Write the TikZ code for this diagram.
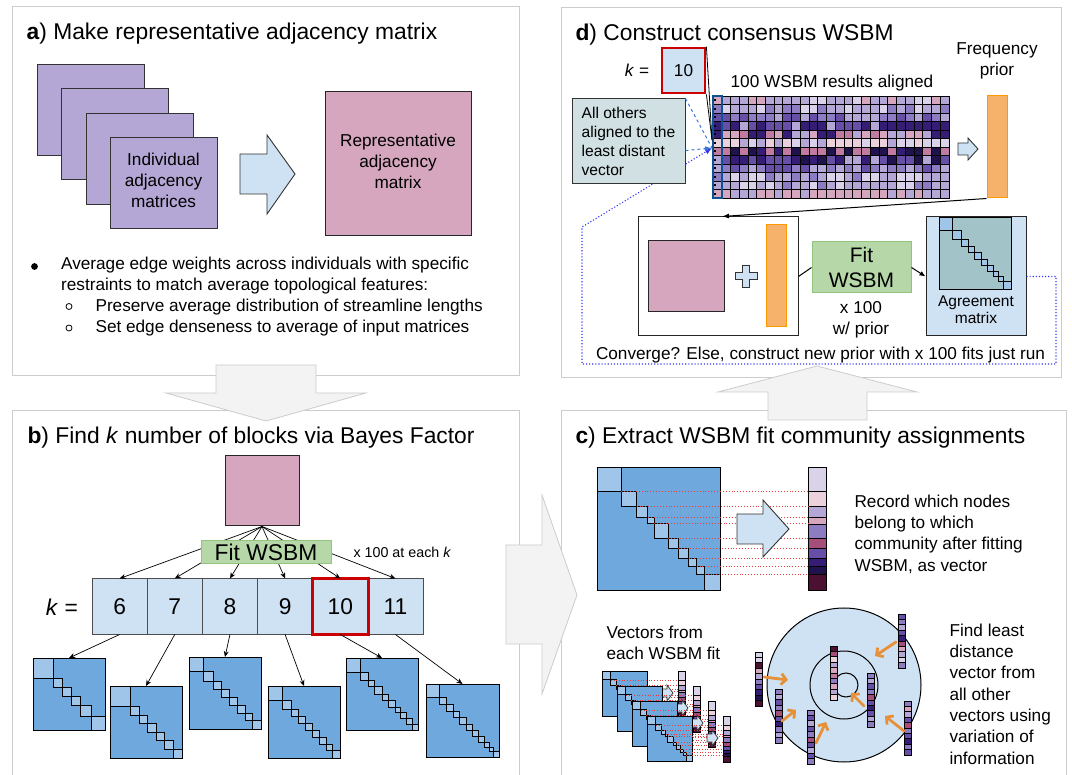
\documentclass[tikz,border=0pt]{standalone}
\usepackage{fontspec}
\setmainfont{Liberation Sans}
\usetikzlibrary{calc,arrows.meta}
\definecolor{pan_gray}{RGB}{204,204,204}
\definecolor{arr_gray}{RGB}{243,243,243}
\definecolor{lt_blue}{RGB}{207,226,243}
\definecolor{mat_blue}{RGB}{111,168,220}
\definecolor{blk_blue}{RGB}{159,197,232}
\definecolor{fit_green}{RGB}{182,215,168}
\definecolor{fit_edge}{RGB}{147,196,125}
\definecolor{sel_red}{RGB}{204,0,0}
\definecolor{prior_orange}{RGB}{246,178,107}
\definecolor{prior_edge}{RGB}{255,153,0}
\definecolor{note_gray}{RGB}{208,224,227}
\definecolor{agr_teal}{RGB}{162,196,201}
\definecolor{arr_orange}{RGB}{230,145,56}
\definecolor{lead_blue}{RGB}{11,83,148}
\definecolor{dash_blue}{RGB}{60,120,216}
\definecolor{dot_blue}{RGB}{51,51,255}
\definecolor{guide_red}{RGB}{230,60,60}
\definecolor{pp_lav}{RGB}{217,210,233}
\definecolor{pp_light}{RGB}{180,167,214}
\definecolor{pp_med}{RGB}{142,124,195}
\definecolor{pp_mid}{RGB}{103,78,167}
\definecolor{pp_dark}{RGB}{53,28,117}
\definecolor{pp_deep}{RGB}{32,18,77}
\definecolor{pk_pale}{RGB}{234,209,220}
\definecolor{pk_light}{RGB}{213,166,189}
\definecolor{pk_med}{RGB}{194,123,160}
\definecolor{pk_mag}{RGB}{166,77,121}
\definecolor{pk_deep}{RGB}{76,17,48}
\newcommand{\ttlsize}{\fontsize{22.8pt}{27pt}\selectfont}
\newcommand{\txtsize}{\fontsize{17.2pt}{21.3pt}\selectfont}
\newcommand{\calsize}{\fontsize{15.6pt}{19pt}\selectfont}
\newcommand{\agrsize}{\fontsize{15.5pt}{17pt}\selectfont}
\newcommand{\xsize}{\fontsize{14.3pt}{17pt}\selectfont}
\newcommand{\fitsize}{\fontsize{21pt}{25.5pt}\selectfont}
\tikzstyle{panel}=[draw=pan_gray,line width=1pt]
\tikzstyle{grayarrow}=[draw=pan_gray,fill=arr_gray,line width=0.8pt]
\tikzstyle{bluearrow}=[draw=black!80,fill=lt_blue,line width=0.9pt]
\tikzstyle{mat}=[draw=black,line width=0.9pt,inner sep=0pt,outer sep=0pt]
\tikzstyle{blk}=[draw=black,fill=blk_blue,line width=0.9pt]
\tikzstyle{indmat}=[draw=black!80,fill=pp_light,line width=1pt,minimum width=107pt,
  minimum height=91pt,anchor=north west]
\tikzstyle{repmat}=[draw=black!85,fill=pk_light,line width=1pt]
\tikzstyle{kbox}=[draw=black!70,fill=lt_blue,line width=1pt,minimum width=55.2pt,
  minimum height=55pt,inner sep=0pt,font=\ttlsize]
\tikzstyle{selbox}=[draw=sel_red,line width=2.8pt]
\tikzstyle{fitbox}=[draw=fit_edge,fill=fit_green,line width=1pt,inner sep=0pt]
\tikzstyle{prior}=[draw=prior_edge,fill=prior_orange,line width=1pt,minimum width=20pt,
  minimum height=102pt,inner sep=0pt]
\tikzstyle{cell}=[draw=black,line width=0.9pt]
\tikzstyle{vecnode}=[inner sep=0pt,outer sep=0pt]
\tikzstyle{vecline}=[draw=black,line width=0.7pt]
\tikzstyle{guide}=[guide_red,dotted,line width=0.9pt]
\tikzstyle{fan}=[-{Stealth[length=6pt,width=5pt]},line width=0.7pt]
\tikzstyle{orangearrow}=[arr_orange,line width=2.8pt,line cap=round,
  -{Straight Barb[length=5pt,width=11pt]}]
\tikzstyle{loopline}=[dot_blue,dotted,line width=1.1pt]
\tikzstyle{callout}=[draw=black!80,fill=note_gray,line width=1pt,minimum width=113pt,
  minimum height=85pt,align=left,font=\calsize]
% matrix with diagonal blocks: name, x, y, size, fill, block pairs
\newcommand{\diagmat}[6]{%
  \node[style=mat,fill=#5,minimum width=#4pt,minimum height=#4pt,anchor=north west] (#1) at (#2,#3) {};
  \foreach \p/\q in {#6}
    \draw[style=blk] ($(#1.north west)+(\p*#4,\p*#4)$) rectangle ($(#1.north west)+(\q*#4,\q*#4)$);
}
% community vector: name, x, y, width, height, from/to/colour
\newcommand{\colvec}[6]{%
  \node[style=vecnode,minimum width=#4pt,minimum height=#5pt,anchor=north west] (#1) at (#2,#3) {};
  \foreach \p/\q/\cl in {#6}
    \draw[style=vecline,fill=\cl] ($(#1.north west)+(0,\p*#5)$) rectangle ($(#1.north east)+(0,\q*#5)$);
}
% ten equal cells
\newcommand{\eqvec}[4]{%
  \node[style=vecnode,minimum width=7pt,minimum height=54pt,anchor=north west] (#1) at (#2,#3) {};
  \foreach \cl [count=\nn from 0] in {#4}
    \draw[style=vecline,fill=\cl] ($(#1.north west)+(0,\nn*5.4)$) rectangle ++(7,5.4);
}
\pgfmathdeclarerandomlist{row1}{{pp_light}{pk_light}{pp_light}{pp_lav}{pp_light}}
\pgfmathdeclarerandomlist{row2}{{pp_lav}{pp_light}{pp_med}{pp_light}}
\pgfmathdeclarerandomlist{row3}{{pp_med}{pp_mid}{pp_light}{pp_med}}
\pgfmathdeclarerandomlist{row4}{{pp_dark}{pp_mid}{pp_dark}{pp_light}}
\pgfmathdeclarerandomlist{row5}{{pk_med}{pp_dark}{pk_light}{pp_light}}
\pgfmathdeclarerandomlist{row6}{{pk_pale}{pp_lav}{pk_pale}{pp_light}}
\pgfmathdeclarerandomlist{row7}{{pp_deep}{pk_med}{pp_dark}{pk_med}}
\pgfmathdeclarerandomlist{row8}{{pp_dark}{pp_mid}{pp_deep}{pp_light}}
\pgfmathdeclarerandomlist{row9}{{pp_med}{pp_mid}{pp_light}{pp_med}}
\pgfmathdeclarerandomlist{row10}{{pp_lav}{pp_light}{pp_med}{pp_light}}
\pgfmathdeclarerandomlist{row11}{{pp_light}{pp_lav}{pp_med}{pp_light}}
\pgfmathdeclarerandomlist{row12}{{pk_light}{pp_light}{pp_light}{pk_light}}

\begin{document}
\begin{tikzpicture}[x=1pt,y=-1pt]
  \useasboundingbox (0,0) rectangle (1072,775);
  \fill[white] (0,0) rectangle (1072,775);

  % panels and the arrows between them
  \draw[style=panel] (12,7) rectangle (519,376);
  \draw[style=panel] (12,780) |- (519,411) -- (519,780);
  \draw[style=panel] (561,780) |- (1066,411) -- (1066,780);
  \draw[style=panel] (561,8) rectangle (1061,378);
  \draw[style=grayarrow] (216,365) -- (316,365) -- (316,393) -- (366,393) -- (266,421) -- (166,393) -- (216,393) -- cycle;
  \draw[style=grayarrow] (506,545) -- (542,545) -- (542,495) -- (577,595) -- (542,694) -- (542,644) -- (506,644) -- cycle;
  \draw[style=grayarrow] (768,420) -- (867,420) -- (867,392) -- (917,392) -- (817,366) -- (718,392) -- (768,392) -- cycle;

  % a)
  \node[anchor=base west,font=\ttlsize] (ta) at (23,39.5) {\textbf{a}) Make representative adjacency matrix};
  \foreach \i in {0,...,3}
    \node [style=indmat] (ind\i) at (37+24.3*\i,64+24.3*\i) {};
  \node[font=\txtsize,align=center,anchor=north] (indtxt) at (163.5,149.4) {Individual\\adjacency\\matrices};
  \draw[style=bluearrow] (240,154) -- (267,154) -- (267,135) -- (295,174) -- (267,214) -- (267,194) -- (240,194) -- cycle;
  \node [style=repmat,minimum width=146pt,minimum height=144pt] (rep) at (398,164) {};
  \node[font=\txtsize,align=center,anchor=north] (reptxt) at (398,130.4) {Representative\\adjacency\\matrix};
  \fill (34.5,266.5) circle (3.4);
  \node[anchor=base west,font=\txtsize] (avg1) at (57.6,270) {Average edge weights across individuals with specific};
  \node[anchor=base west,font=\txtsize] (avg2) at (57.6,290.7) {restraints to match average topological features:};
  \draw[line width=0.8pt] (69,306.5) circle (3);
  \node[anchor=base west,font=\txtsize] (pres) at (92,311.7) {Preserve average distribution of streamline lengths};
  \draw[line width=0.8pt] (69,328) circle (3);
  \node[anchor=base west,font=\txtsize] (dens) at (92,333) {Set edge denseness to average of input matrices};

  % b)
  \node[anchor=base west,font=\ttlsize] (tb) at (24,444) {\textbf{b}) Find \textit{k} number of blocks via Bayes Factor};
  \node [style=repmat,minimum width=74pt,minimum height=70pt] (pinkb) at (262,491) {};
  \foreach \k [count=\i from 0] in {6,...,11}
    \node [style=kbox] (k\k) at (119.6+55.17*\i,606.5) {\k};
  \draw[style=selbox] (k10.north west) rectangle (k10.south east);
  \node[font=\ttlsize] (keq) at (62,607) {\textit{k} =};
  \foreach \k in {6,...,11}
    \draw[style=fan] (pinkb.south) to (k\k.north);
  \node [style=fitbox,minimum width=130pt,minimum height=23pt,font=\ttlsize] (fitb) at (266,552.5) {Fit WSBM};
  \node[anchor=base west,font=\xsize] (each) at (350,558) {x 100 at each \textit{k}};
  \diagmat{m6}{33}{658}{72}{mat_blue}{0/0.29,0.29/0.41,0.41/0.54,0.54/0.66,0.66/0.81,0.81/1}
  \diagmat{m7}{110}{686}{72}{mat_blue}{0/0.28,0.28/0.41,0.41/0.52,0.52/0.64,0.64/0.75,0.75/0.88,0.88/1}
  \diagmat{m8}{189}{657}{72}{mat_blue}{0/0.2,0.2/0.34,0.34/0.45,0.45/0.56,0.56/0.67,0.67/0.78,0.78/0.88,0.88/1}
  \diagmat{m9}{268}{686}{72}{mat_blue}{0/0.2,0.2/0.32,0.32/0.42,0.42/0.52,0.52/0.62,0.62/0.72,0.72/0.81,0.81/0.9,0.9/1}
  \diagmat{m10}{346}{658}{72}{mat_blue}{0/0.2,0.2/0.31,0.31/0.4,0.4/0.5,0.5/0.59,0.59/0.68,0.68/0.76,0.76/0.84,0.84/0.92,0.92/1}
  \diagmat{m11}{426}{684}{73}{mat_blue}{0/0.18,0.18/0.28,0.28/0.37,0.37/0.46,0.46/0.55,0.55/0.64,0.64/0.72,0.72/0.8,0.8/0.87,0.87/0.93,0.93/1}
  \foreach \k in {6,...,11}
    \draw[style=fan] (k\k.south) to (m\k.north);

  % c)
  \node[anchor=base west,font=\ttlsize] (tc) at (572,444) {\textbf{c}) Extract WSBM fit community assignments};
  \diagmat{cmat}{597}{467}{123}{mat_blue}{0/0.198,0.198/0.322,0.322/0.413,0.413/0.463,0.463/0.579,0.579/0.661,0.661/0.744,0.744/0.81,0.81/0.876,0.876/1}
  \colvec{cvec}{808}{467}{18}{123}{0/0.198/pp_lav,0.198/0.322/pk_pale,0.322/0.413/pp_light,0.413/0.463/pk_light,0.463/0.579/pp_med,0.579/0.661/pk_mag,0.661/0.744/pp_mid,0.744/0.81/pp_dark,0.81/0.876/pp_deep,0.876/1/pk_deep}
  \foreach \q in {0.198,0.322,0.413,0.463,0.579,0.661,0.744,0.81,0.876}
    \draw[style=guide] ($(cmat.north west)+(\q*123,\q*123)$) to ($(cvec.north west)+(0,\q*123)$);
  \draw[style=bluearrow] (737,514) -- (763,514) -- (763,500) -- (789,529) -- (763,557) -- (763,544) -- (737,544) -- cycle;
  \node[anchor=north west,font=\txtsize,align=left] (record) at (851,491.4) {Record which nodes\\belong to which\\community after fitting\\WSBM, as vector};
  \node[anchor=north west,font=\txtsize,align=left] (vfrom) at (603,622.4) {Vectors from\\each WSBM fit};
  \foreach \i in {0,...,3} {
    \diagmat{sm\i}{602+15*\i}{671+15*\i}{45}{mat_blue}{0/0.198,0.198/0.322,0.322/0.413,0.413/0.463,0.463/0.579,0.579/0.661,0.661/0.744,0.744/0.81,0.81/0.876,0.876/1}
    \foreach \q in {0.198,0.322,0.413,0.463,0.579,0.661,0.744,0.81,0.876}
      \draw[style=guide,line width=0.7pt] ($(sm\i.north west)+(\q*45,\q*45)$) to ($(sm\i.north west)+(76,\q*45)$);
    \begin{scope}[shift={(662+15*\i,693+15*\i)}]
      \draw[style=bluearrow,line width=0.7pt] (0,-4) -- (5,-4) -- (5,-8) -- (11,0) -- (5,8) -- (5,4) -- (0,4) -- cycle;
    \end{scope}
    \colvec{sv\i}{678+15*\i}{671+15*\i}{7}{46}{0/0.198/pp_lav,0.198/0.322/pk_pale,0.322/0.413/pp_light,0.413/0.463/pk_light,0.463/0.579/pp_med,0.579/0.661/pk_mag,0.661/0.744/pp_mid,0.744/0.81/pp_dark,0.81/0.876/pp_deep,0.876/1/pk_deep}
  }
  \node[circle,draw,fill=lt_blue,line width=1pt,minimum size=154pt,inner sep=0pt] (outer) at (844,685) {};
  \node[circle,draw,line width=1pt,minimum size=68pt,inner sep=0pt] (middle) at (844,685) {};
  \node[circle,draw,line width=1pt,minimum size=24pt,inner sep=0pt] (inner) at (846,685) {};
  \eqvec{cv1}{755}{652}{pp_lav,pp_lav,pk_deep,pk_light,pp_light,pp_med,pp_mid,pp_dark,pp_deep,pk_deep}
  \eqvec{cv2}{775}{689}{pp_med,pp_light,pp_mid,pp_med,pk_mag,pp_mid,pp_dark,pp_med,pp_light,pp_med}
  \eqvec{cv3}{807}{710}{pp_med,pp_mid,pp_light,pp_mid,pp_med,pk_mag,pp_mid,pp_light,pp_mid,pp_med}
  \eqvec{cv4}{830}{646}{pk_deep,pk_mag,pk_pale,pp_light,pk_light,pk_med,pp_med,pk_light,pp_light,pk_pale}
  \eqvec{cv5}{867}{673}{pp_med,pp_light,pp_mid,pp_med,pk_mag,pp_mid,pp_dark,pp_mid,pp_light,pp_med}
  \eqvec{cv6}{898}{614}{pp_mid,pp_med,pp_light,pp_mid,pp_dark,pk_mag,pk_light,pp_light,pp_lav,pp_med}
  \eqvec{cv7}{904}{701}{pp_med,pk_light,pp_light,pp_mid,pk_mag,pp_med,pp_mid,pp_dark,pp_med,pp_mid}
  \draw[style=orangearrow] (764,677) -- (788,680);
  \draw[style=orangearrow] (782,721) -- (796,710);
  \draw[style=orangearrow] (816,743) -- (826,722);
  \draw[style=orangearrow] (864,706) -- (851,693);
  \draw[style=orangearrow] (904,731) -- (885,716);
  \draw[style=orangearrow] (896,642) -- (875,656);
  \node[anchor=north west,font=\txtsize,align=left] (least) at (946,620.4) {Find least\\distance\\vector from\\all other\\vectors using\\variation of\\information};

  % d)
  \node[anchor=base west,font=\ttlsize] (td) at (572,40.5) {\textbf{d}) Construct consensus WSBM};
  \node[font=\txtsize] (keqd) at (637,70) {\textit{k} =};
  \node [style=kbox,minimum width=43pt,minimum height=45pt,font=\txtsize,draw=sel_red,line width=2.8pt] (k10d) at (683.5,70.5) {10};
  \node[anchor=base,font=\txtsize] (restxt) at (832,88) {100 WSBM results aligned};
  \node[inner sep=0pt,minimum width=236pt,minimum height=102pt,anchor=north west] (res) at (713,96) {};
  \pgfmathsetseed{21}
  \foreach \ro in {1,...,12}
    \foreach \co in {1,...,27} {
      \pgfmathrandomitem{\cc}{row\ro}
      \draw[style=cell,fill=\cc] ($(res.north west)+(8.74*\co-8.74,8.5*\ro-8.5)$) rectangle ++(8.74,8.5);
    }
  \foreach \ro in {1,...,12}
    \draw[line width=1.6pt] ($(res.north west)+(0.4,8.5*\ro-4.25)$) -- ++(3,0);
  \draw[lead_blue,line width=1.6pt] (res.north west) rectangle ($(res.north west)+(9,102)$);
  \coordinate (lead) at (712,148);
  \coordinate (lead2) at (712,140);
  \draw[line width=0.8pt] (k10d.north east) to (lead2);
  \draw[line width=0.8pt] (k10d.south east) to (lead2);
  \node[anchor=north,font=\txtsize,align=center] (freq) at (997,39.2) {Frequency\\prior};
  \draw[style=bluearrow] (958,143) -- (968,143) -- (968,138) -- (978,149) -- (968,160) -- (968,155) -- (958,155) -- cycle;
  \node [style=prior] (fprior) at (997,147) {};
  \node[draw=black!85,line width=1pt,minimum width=160pt,minimum height=119pt] (inbox) at (718,276.5) {};
  \draw[line width=1pt,-{Latex[length=7pt,width=5pt]}] (fprior.south west) to ($(inbox.north west)!0.525!(inbox.north east)$);
  \node [style=repmat,minimum width=76pt,minimum height=71pt] (pinkd) at (686,276.5) {};
  \draw[style=bluearrow] (742.5,265) -- (749.5,265) -- (749.5,272.5) -- (757,272.5) -- (757,279.5) -- (749.5,279.5) -- (749.5,287) -- (742.5,287) -- (742.5,279.5) -- (735,279.5) -- (735,272.5) -- (742.5,272.5) -- cycle;
  \node [style=prior] (bard) at (776,276) {};
  \node [style=fitbox,minimum width=99pt,minimum height=51pt,align=center,font=\fitsize] (fitd) at (861.5,267.5) {Fit\\WSBM};
  \node[anchor=north,font=\txtsize,align=center] (x100) at (861,297.6) {x 100\\w/ prior};
  \node[draw=black!85,fill=lt_blue,line width=1pt,minimum width=100pt,minimum height=119pt] (agree) at (976,276.5) {};
  \diagmat{agm}{939}{217}{72}{agr_teal}{0/0.183,0.183/0.307,0.307/0.408,0.408/0.49,0.49/0.591,0.591/0.674,0.674/0.752,0.752/0.826,0.826/0.894,0.894/1}
  \node[anchor=north,font=\agrsize,align=center] (agtxt) at (976,292.5) {Agreement\\matrix};
  \draw[line width=1pt] (inbox.east) to (fitd.west);
  \draw[line width=1pt,-{Latex[length=6pt,width=5pt]}] (fitd.east) to (agree.west);
  \node[anchor=base,font=\txtsize] (conv) at (820.5,360) {Converge? Else, construct new prior with x 100 fits just run};
  \draw[style=loopline,-{Latex[length=7pt,width=6pt]}] (agree.east) -- (1056,276.5) -- (1056,364) -- (582,364) -- (582,227) -- (lead);
  \node [style=callout] (others) at (628.5,141.5) {All others\\aligned to the\\least distant\\vector};
  \draw[dash_blue,dashed,line width=1pt] (others.north east) to (lead);
  \draw[dash_blue,dashed,line width=1pt,-{Latex[length=7pt,width=5pt]}] ($(others.east)+(0,9)$) to (lead);
\end{tikzpicture}
\end{document}
